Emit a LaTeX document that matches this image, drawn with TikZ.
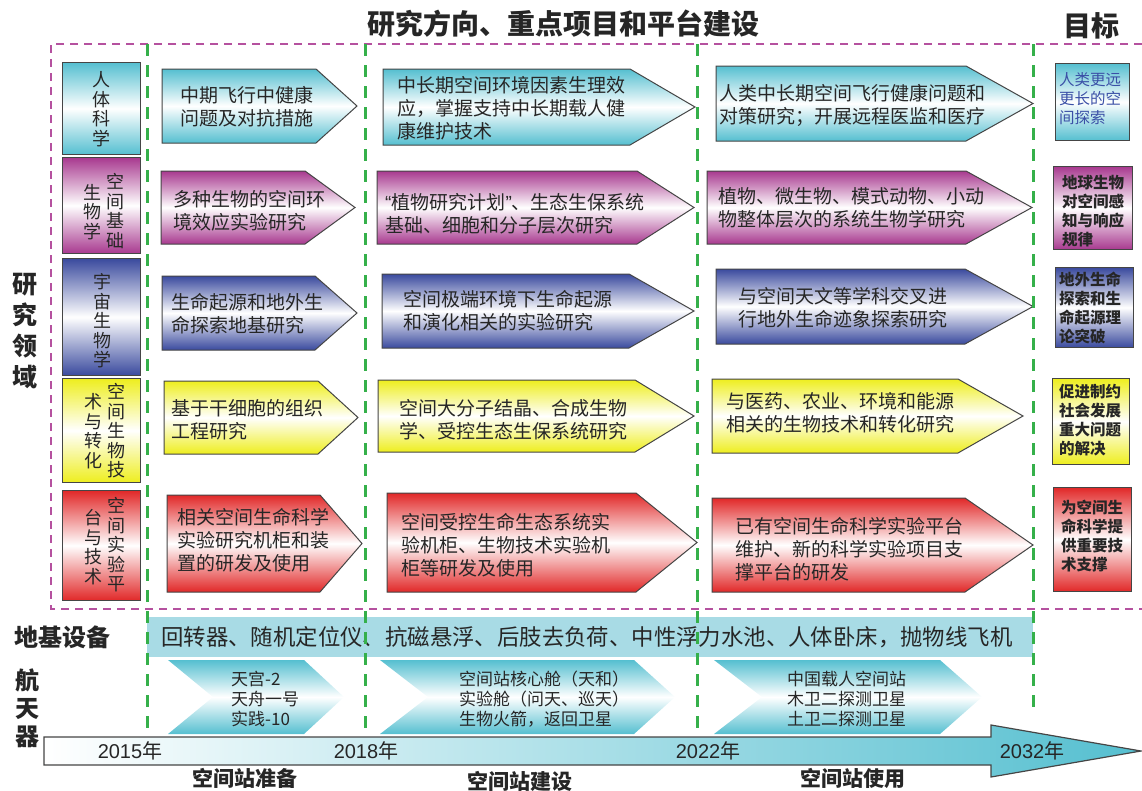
\documentclass[tikz,border=0pt]{standalone}
\usepackage{fontspec}
\setmainfont{Noto Sans CJK SC}
\newfontfamily\arialf{Liberation Sans}
\definecolor{cy}{HTML}{55BFD0}
\definecolor{mg}{HTML}{A8398F}
\definecolor{bl}{HTML}{3A4A9E}
\definecolor{ye}{HTML}{EEEE1E}
\definecolor{rd}{HTML}{E12828}
\definecolor{dmag}{HTML}{B5519F}
\definecolor{dgrn}{HTML}{35B04A}
\definecolor{bandc}{HTML}{A8DBE5}
\definecolor{edge}{HTML}{454545}
\definecolor{ink}{HTML}{262626}
\definecolor{goalblue}{HTML}{3A4FA6}
\tikzset{
  box/.style={draw=edge, line width=1pt},
  fcy/.style={top color=cy, bottom color=cy, middle color=white},
  fmg/.style={top color=mg, bottom color=mg, middle color=white},
  fbl/.style={top color=bl, bottom color=bl, middle color=white},
  fye/.style={top color=ye, bottom color=ye, middle color=white},
  frd/.style={top color=rd, bottom color=rd, middle color=white},
  atext/.style={anchor=west, align=left, inner sep=0pt, text=ink, font=\fontsize{19}{23}\selectfont},
  vtext/.style={align=center, inner sep=0pt, text=ink, font=\fontsize{18}{19.5}\selectfont},
  gtext/.style={anchor=west, align=left, inner sep=0pt, text=ink, font=\bfseries\fontsize{15.5}{19}\selectfont},
  ctext/.style={anchor=west, align=left, inner sep=0pt, text=ink, font=\fontsize{17}{20}\selectfont},
  head/.style={inner sep=0pt, text=ink, font=\bfseries\fontsize{28}{30}\selectfont},
  side/.style={align=center, inner sep=0pt, text=ink, font=\bfseries\fontsize{25}{31}\selectfont},
  era/.style={inner sep=0pt, text=ink, font=\bfseries\fontsize{21}{23}\selectfont},
  year/.style={inner sep=0pt, text=ink, font=\fontsize{20}{22}\selectfont},
  magline/.style={draw=dmag, line width=2.2pt, dash pattern=on 8pt off 6pt},
  grnline/.style={draw=dgrn, line width=3pt, dash pattern=on 12pt off 9pt},
  chev/.style={top color=cy, bottom color=cy, middle color=white},
}
\newcommand\pent[6]{\path[box,#6] (#1,#4) -- (#2,#4) -- (#3,{(#4+#5)/2}) -- (#2,#5) -- (#1,#5) -- cycle;}
\newcommand\gbox[6]{\node[box,#6,minimum width=#3-#2,minimum height=#5-#4,inner sep=0pt,anchor=north west] (#1) at (#2,#4) {};}
\begin{document}
\begin{tikzpicture}[x=1pt,y=-1pt]
\useasboundingbox (0,0) rectangle (1142,790);

% titles
\node[head] (title) at (563,24) {研究方向、重点项目和平台建设};
\node[head] (goal) at (1091,26) {目标};

% left column boxes
\gbox{L1}{62}{140}{62}{154}{fcy}
\gbox{L2}{62}{140}{157}{253}{fmg}
\gbox{L3}{62}{140}{258}{375}{fbl}
\gbox{L4}{62}{140}{378}{482}{fye}
\gbox{L5}{62}{140}{490}{600}{frd}
\node[vtext] (l1t) at (101,109) {人\\体\\科\\学};
\node[vtext] (l2r) at (115,211) {空\\间\\基\\础};
\node[vtext] (l2l) at (92,212) {生\\物\\学};
\node[vtext] (l3t) at (102,321) {宇\\宙\\生\\物\\学};
\node[vtext] (l4r) at (116,431) {空\\间\\生\\物\\技};
\node[vtext] (l4l) at (93,431) {术\\与\\转\\化};
\node[vtext] (l5r) at (116,545) {空\\间\\实\\验\\平};
\node[vtext] (l5l) at (93,547) {台\\与\\技\\术};

% arrows, first period
\pent{162}{316}{357}{69}{143}{fcy}
\pent{161}{305}{355}{171}{244}{fmg}
\pent{162}{315}{357}{276}{350}{fbl}
\pent{164}{318}{358}{381}{454}{fye}
\pent{167}{320}{362}{495}{592}{frd}
\node[atext] (a1) at (180,107) {中期飞行中健康\\问题及对抗措施};
\node[atext] (a2) at (173,211) {多种生物的空间环\\境效应实验研究};
\node[atext] (a3) at (171,314) {生命起源和地外生\\命探索地基研究};
\node[atext] (a4) at (171,420) {基于干细胞的组织\\工程研究};
\node[atext] (a5) at (177,540) {相关空间生命科学\\实验研究机柜和装\\置的研发及使用};

% arrows, second period
\pent{383}{630}{695}{69}{145}{fcy}
\pent{377}{637}{694}{171}{244}{fmg}
\pent{382}{629}{694}{274}{348}{fbl}
\pent{378}{635}{694}{380}{452}{fye}
\pent{387}{636}{697}{493}{592}{frd}
\node[atext] (b1) at (397,108) {中长期空间环境因素生理效\\应，掌握支持中长期载人健\\康维护技术};
\node[atext] (b2) at (385,214) {{\arialf “}植物研究计划{\arialf ”}、生态生保系统\\基础、细胞和分子层次研究};
\node[atext] (b3) at (403,311) {空间极端环境下生命起源\\和演化相关的实验研究};
\node[atext] (b4) at (399,420) {空间大分子结晶、合成生物\\学、受控生态生保系统研究};
\node[atext] (b5) at (401,545) {空间受控生命生态系统实\\验机柜、生物技术实验机\\柜等研发及使用};

% arrows, third period
\pent{716}{966}{1033}{66}{141}{fcy}
\pent{707}{966}{1032}{171}{244}{fmg}
\pent{716}{965}{1033}{269}{344}{fbl}
\pent{712}{958}{1023}{379}{453}{fye}
\pent{712}{965}{1033}{498}{592}{frd}
\node[atext] (c1) at (719,105) {人类中长期空间飞行健康问题和\\对策研究；开展远程医监和医疗};
\node[atext] (c2) at (718,208) {植物、微生物、模式动物、小动\\物整体层次的系统生物学研究};
\node[atext] (c3) at (738,308) {与空间天文等学科交叉进\\行地外生命迹象探索研究};
\node[atext] (c4) at (726,413) {与医药、农业、环境和能源\\相关的生物技术和转化研究};
\node[atext] (c5) at (735,549) {已有空间生命科学实验平台\\维护、新的科学实验项目支\\撑平台的研发};

% goal boxes
\gbox{G1}{1055}{1129}{63}{140}{fcy}
\gbox{G2}{1053}{1132}{166}{249}{fmg}
\gbox{G3}{1055}{1133}{267}{347}{fbl}
\gbox{G4}{1052}{1129}{378}{464}{fye}
\gbox{G5}{1053}{1131}{487}{591}{frd}
\node[gtext,text=goalblue,font=\fontsize{15.5}{19}\selectfont] (g1) at (1059,99) {人类更远\\更长的空\\间探索};
\node[gtext] (g2) at (1062,211) {地球生物\\对空间感\\知与响应\\规律};
\node[gtext] (g3) at (1059,308) {地外生命\\探索和生\\命起源理\\论突破};
\node[gtext] (g4) at (1059,420) {促进制约\\社会发展\\重大问题\\的解决};
\node[gtext] (g5) at (1061,536) {为空间生\\命科学提\\供重要技\\术支撑};

% side labels
\node[side] (field) at (25,331) {研\\究\\领\\域};
\node[side,font=\bfseries\fontsize{24}{28}\selectfont] (ground) at (62,637) {地基设备};
\node[side,font=\bfseries\fontsize{24}{28}\selectfont] (craft) at (28,708) {航\\天\\器};

% ground equipment band
\path[fill=bandc] (147,617) rectangle (1033,657);
\node[anchor=west, inner sep=0pt, text=ink, font=\fontsize{22.4}{24}\selectfont] (gear) at (161,637) {回转器、随机定位仪、抗磁悬浮、后肢去负荷、中性浮力水池、人体卧床，抛物线飞机};

% spacecraft chevrons
\path[chev] (168,660) -- (304,660) -- (344,697) -- (304,734) -- (168,734) -- (213,697) -- cycle;
\path[chev] (380,660) -- (634,660) -- (675,697) -- (634,734) -- (380,734) -- (428,697) -- cycle;
\path[chev] (714,660) -- (940,660) -- (982,697) -- (940,734) -- (714,734) -- (762,697) -- cycle;
\node[ctext] (s1) at (231,699) {天宫-2\\天舟一号\\实践-10};
\node[ctext] (s2) at (459,699) {空间站核心舱（天和）\\实验舱（问天、巡天）\\生物火箭，返回卫星};
\node[ctext] (s3) at (787,699) {中国载人空间站\\木卫二探测卫星\\土卫二探测卫星};

% timeline arrow
\path[draw=edge, line width=1.2pt, left color=white, right color=cy]
  (44,737) -- (991,737) -- (991,725) -- (1141,751) -- (991,777) -- (991,765) -- (44,765) -- cycle;
\node[year] (y15) at (130,751) {{\arialf 2015}年};
\node[year] (y18) at (366,751) {{\arialf 2018}年};
\node[year] (y22) at (708,751) {{\arialf 2022}年};
\node[year] (y32) at (1032,751) {{\arialf 2032}年};
\node[era] (e1) at (245,778) {空间站准备};
\node[era] (e2) at (520,781) {空间站建设};
\node[era] (e3) at (853,778) {空间站使用};

% dashed frames
\path[magline] (1142,44) -- (51,44) -- (51,609) -- (1142,609);
\path[grnline] (147,44) -- (147,733);
\path[grnline] (365,44) -- (365,730);
\path[grnline] (697,44) -- (697,730);
\path[grnline] (1033,44) -- (1033,713);
\end{tikzpicture}
\end{document}
